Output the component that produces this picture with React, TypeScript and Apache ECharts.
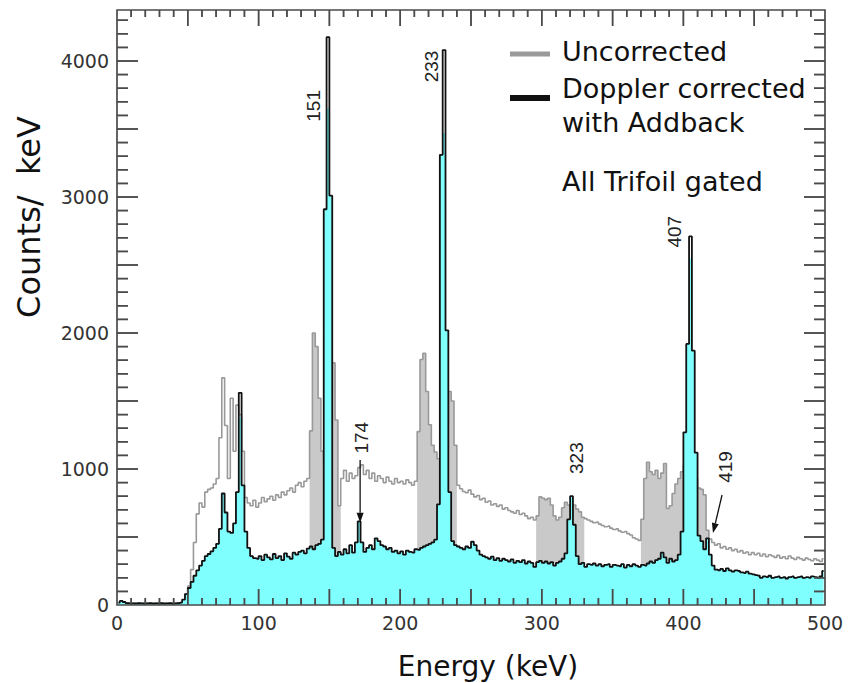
import React, { useEffect, useRef } from 'react';
import * as echarts from 'echarts';

// ---------------- DATA (2 keV bins, 0-500 keV) ----------------
const BIN_WIDTH_KEV = 2;

// Uncorrected spectrum (grey)
const uncorrectedCounts = [
  15, 28, 20, 14, 12, 12, 11, 13, 12, 11, 12, 13, 11, 12, 12, 13, 11, 12, 13, 11, 12, 14, 16,
  30, 80, 140, 260, 460, 670, 750, 720, 830, 850, 860, 890, 930, 1230, 1670, 1320, 930, 1520, 1130, 1470, 1400, 1130, 790, 750, 730, 770,
  720, 750, 790, 760, 780, 800, 770, 810, 790, 830, 810, 840, 860, 830, 880, 900, 870, 910, 930,
  1280, 2000, 1900, 1520, 1130, 1030, 1130, 1520, 1780, 1360, 730,
  930, 990, 910, 970, 930, 950, 1010, 1030, 960, 990, 930, 970, 910, 950, 930, 900, 940, 910, 890, 930, 900, 910, 890, 920, 900, 880, 910,
  1275, 1805, 1850, 1570, 1325, 1175, 1125, 1075, 1030, 1075, 1325, 1570, 1500, 1175, 880,
  855, 835, 825, 845, 815, 795, 805, 775, 785, 755, 765, 735, 745, 725, 735, 705, 715, 695, 685, 675, 695, 665, 675, 655, 635, 645, 625, 655,
  795, 785, 775, 785, 735, 655, 625, 645, 715, 755, 735, 725, 735, 705, 685, 645, 635, 625, 615, 605, 610, 595, 585, 575, 580, 565, 555, 560, 545, 535, 540, 525, 515, 495, 485, 475,
  630, 930, 1050, 980, 960, 990, 930, 970, 1040, 710, 730, 820, 890, 930, 980, 1030, 1130, 1180, 1080, 930, 860, 850, 810, 550, 485,
  460, 440, 450, 420, 430, 410, 420, 400, 410, 390, 400, 380, 390, 370, 385, 370, 380, 360, 375, 355,
  370, 360, 350, 365, 345, 355, 340, 360, 345, 335, 350, 340, 330, 345, 335, 325, 340, 330, 320, 340,
];

// Doppler corrected with Addback (black line)
const correctedCounts = [
  18, 30, 22, 14, 12,
  12, 11, 13, 12, 11, 12, 13, 11, 12, 12, 13, 11, 12, 13, 11, 12, 14, 18,
  40, 80, 125, 170, 215, 255, 290, 325, 360, 375, 395, 420, 450, 560, 820, 680, 540, 530, 600, 830, 1560, 880, 540, 420, 360, 345,
  340, 360, 330, 370, 350, 335, 375, 345, 360, 330, 380, 355, 340, 385, 370, 390, 400, 380, 415, 430, 410, 440, 450, 480,
  2910, 4175, 3010, 420,
  360, 390, 370, 410, 380, 440, 385, 460, 615, 460, 390, 420, 440, 410, 490, 470, 440, 430, 410, 420,
  390, 400, 380, 395, 370, 400, 390, 385, 410, 405, 420, 430, 440, 450, 460, 480,
  740, 3310, 4080, 2020, 830, 470,
  440, 430, 420, 410, 430, 420, 465, 440, 400, 370, 360, 350, 340, 355, 330, 345, 325, 340, 330, 320,
  335, 310, 325, 315, 330, 305, 320, 310, 280, 315, 325, 310, 320, 305, 315, 290, 310, 320, 340,
  380, 630, 800, 590, 360,
  300, 310, 280, 300, 295, 305, 290, 300, 285, 295, 300, 280, 295, 290, 285, 300, 275, 295,
  285, 300, 290, 280, 295, 290, 305, 320, 310, 330, 340, 385, 350, 310, 340, 320, 330, 370,
  540, 1270, 1920, 2710, 1870, 1120, 510, 470, 410, 490, 370, 290,
  260, 255, 265, 250, 270, 255, 245, 255, 250, 240, 235, 245, 230, 225, 220, 215, 200, 210, 205, 215,
  200, 205, 210, 200, 205, 195, 205, 210, 200, 205, 210, 200, 205, 200, 210, 205, 200, 210, 250,
];

// Cyan fill follows the corrected spectrum, except at the tops of the strongest peaks
const cyanPeakTops: [number, number][] = [
  [87, 1380],
  [149, 3650],
  [231, 3470],
  [405, 2550],
];

// Energy ranges where the uncorrected spectrum is shaded grey
const shadedRangesKeV: [number, number][] = [
  [136, 158],
  [212, 240],
  [296, 330],
  [370, 418],
];

const X_LABEL_STEP = 100;
const Y_LABEL_STEP = 1000;

// tick marks
const xTickValues = [
  10, 20, 30, 40, 50, 60, 70, 80, 90, 100, 110, 120, 130, 140, 150, 160, 170, 180, 190, 200,
  210, 220, 230, 240, 250, 260, 270, 280, 290, 300, 310, 320, 330, 340, 350, 360, 370, 380, 390, 400,
  410, 420, 430, 440, 450, 460, 470, 480, 490,
];
const yTickValues = [
  100, 200, 300, 400, 500, 600, 700, 800, 900, 1000, 1100, 1200, 1300, 1400, 1500, 1600, 1700, 1800, 1900, 2000,
  2100, 2200, 2300, 2400, 2500, 2600, 2700, 2800, 2900, 3000, 3100, 3200, 3300, 3400, 3500, 3600, 3700, 3800, 3900, 4000,
  4100, 4200, 4300,
];

const peakLabels = ['151', '233', '407', '174', '323', '419'];
const peakLabelEnergy = [138.6, 222, 394, 172.5, 324.2, 430];
const peakLabelCount = [3670, 3960, 2745, 1230, 1080, 1015];

// arrows: [tailEnergy, tailCount, tipEnergy, tipCount]
const arrows: [number, number, number, number][] = [
  [171.7, 1066, 171.7, 605],
  [427.3, 809, 420.9, 529],
];

// ---------------- helpers ----------------
const energies = correctedCounts.map((_, i) => i * BIN_WIDTH_KEV + BIN_WIDTH_KEV / 2);

const cyanCounts = correctedCounts.map((v, i) => {
  const hit = cyanPeakTops.find(([e]) => e === energies[i]);
  return hit ? hit[1] : v;
});

const shadedCounts = uncorrectedCounts.map((v, i) => {
  const e = energies[i];
  return shadedRangesKeV.some(([a, b]) => e >= a && e <= b) ? v : 0;
});

const FRAME = '#4a4a4a';
const X_MIN = 0, X_MAX = 500, Y_MIN = 0, Y_MAX = 4375;

const GRID_LEFT = 117, GRID_RIGHT = 30, GRID_TOP = 10, GRID_BOTTOM = 78;
const PLOT_W = 855 - GRID_LEFT - GRID_RIGHT;
const PLOT_H = 683 - GRID_TOP - GRID_BOTTOM;
const pxToCounts = (px: number) => (px * (Y_MAX - Y_MIN)) / PLOT_H;
const pxToKeV = (px: number) => (px * (X_MAX - X_MIN)) / PLOT_W;

export default function App() {
  const ref = useRef<HTMLDivElement>(null);

  useEffect(() => {
    if (!ref.current) return;
    const chart = echarts.init(ref.current, null, { renderer: 'svg' });

    const labelStyle = { color: '#333', fontSize: 19, fontFamily: 'DejaVu Sans' };
    const pairs = (arr: number[]) => arr.map((v, i) => [energies[i], v]);

    // one small line series per tick mark (2 points each), drawn through the axes' scales
    const tickSeries: any[] = [];
    xTickValues.forEach((v) => {
      const l = pxToCounts(v % 50 === 0 ? 16 : 7);
      tickSeries.push({
        type: 'line', data: [[v, Y_MIN], [v, Y_MIN + l]], symbol: 'none', silent: true, z: 6,
        lineStyle: { color: FRAME, width: 1.5 },
      });
      tickSeries.push({
        type: 'line', data: [[v, Y_MAX], [v, Y_MAX - l]], symbol: 'none', silent: true, z: 6,
        lineStyle: { color: FRAME, width: 1.5 },
      });
    });
    yTickValues.forEach((v) => {
      const l = pxToKeV(v % 500 === 0 ? 21 : 11);
      tickSeries.push({
        type: 'line', data: [[X_MIN, v], [X_MIN + l, v]], symbol: 'none', silent: true, z: 6,
        lineStyle: { color: FRAME, width: 1.5 },
      });
      tickSeries.push({
        type: 'line', data: [[X_MAX, v], [X_MAX - l, v]], symbol: 'none', silent: true, z: 6,
        lineStyle: { color: FRAME, width: 1.5 },
      });
    });

    chart.setOption({
      animation: false,
      backgroundColor: '#ffffff',
      grid: {
        left: GRID_LEFT, right: GRID_RIGHT, top: GRID_TOP, bottom: GRID_BOTTOM, containLabel: false,
      },
      xAxis: {
        type: 'value', min: X_MIN, max: X_MAX, interval: X_LABEL_STEP,
        axisLine: { show: false }, axisTick: { show: false }, splitLine: { show: false },
        axisLabel: { show: true, margin: 8, ...labelStyle },
      },
      yAxis: {
        type: 'value', min: Y_MIN, max: Y_MAX, interval: Y_LABEL_STEP,
        axisLine: { show: false }, axisTick: { show: false }, splitLine: { show: false },
        axisLabel: { show: true, margin: 8, ...labelStyle, formatter: (v: number) => (v % Y_LABEL_STEP === 0 ? String(v) : '') },
      },
      series: [
        {
          name: 'shaded', type: 'line', step: 'middle', data: pairs(shadedCounts), symbol: 'none', silent: true, z: 1,
          lineStyle: { width: 0, opacity: 0 }, areaStyle: { color: '#c9c9c9', opacity: 1 },
        },
        {
          name: 'Uncorrected', type: 'line', step: 'middle', data: pairs(uncorrectedCounts), symbol: 'none', silent: true, z: 2,
          lineStyle: { color: '#999999', width: 1.6 },
        },
        {
          name: 'fill', type: 'line', step: 'middle', data: pairs(cyanCounts), symbol: 'none', silent: true, z: 3,
          lineStyle: { width: 0, opacity: 0 }, areaStyle: { color: '#80ffff', opacity: 1 },
        },
        {
          name: 'Doppler corrected with Addback', type: 'line', step: 'middle', data: pairs(correctedCounts), symbol: 'none', silent: true, z: 4,
          lineStyle: { color: '#111111', width: 1.8 },
        },
        ...tickSeries,
      ],
    });

    const toPx = (e: number, c: number) => chart.convertToPixel({ xAxisIndex: 0, yAxisIndex: 0 }, [e, c]) as number[];

    const graphics: any[] = [];

    const lb = toPx(X_MIN, Y_MIN);
    const rt = toPx(X_MAX, Y_MAX);
    const gL = lb[0], gB = lb[1], gR = rt[0], gT = rt[1];

    // same ticks also as graphic lines (identical positions)
    xTickValues.forEach((v) => {
      const x = toPx(v, Y_MIN)[0];
      const len = v % 50 === 0 ? 16 : 7;
      graphics.push({ type: 'line', silent: true, z: 30, shape: { x1: x, y1: gB, x2: x, y2: gB - len }, style: { stroke: FRAME, lineWidth: 1.5 } });
      graphics.push({ type: 'line', silent: true, z: 30, shape: { x1: x, y1: gT, x2: x, y2: gT + len }, style: { stroke: FRAME, lineWidth: 1.5 } });
    });
    yTickValues.forEach((v) => {
      const y = toPx(X_MIN, v)[1];
      const len = v % 500 === 0 ? 21 : 11;
      graphics.push({ type: 'line', silent: true, z: 30, shape: { x1: gL, y1: y, x2: gL + len, y2: y }, style: { stroke: FRAME, lineWidth: 1.5 } });
      graphics.push({ type: 'line', silent: true, z: 30, shape: { x1: gR, y1: y, x2: gR - len, y2: y }, style: { stroke: FRAME, lineWidth: 1.5 } });
    });

    graphics.push({
      type: 'rect', silent: true, z: 31,
      shape: { x: gL, y: gT, width: gR - gL, height: gB - gT },
      style: { fill: 'none', stroke: FRAME, lineWidth: 1.7 },
    });

    peakLabels.forEach((t, i) => {
      const p = toPx(peakLabelEnergy[i], peakLabelCount[i]);
      graphics.push({
        type: 'text', x: p[0], y: p[1], rotation: Math.PI / 2, silent: true, z: 10,
        style: { text: t, fontSize: 19, fontFamily: 'Liberation Sans', fill: '#222', align: 'center', verticalAlign: 'middle' },
      });
    });
    arrows.forEach(([e1, c1, e2, c2]) => {
      const p1 = toPx(e1, c1);
      const p2 = toPx(e2, c2);
      const x1 = p1[0], y1 = p1[1], x2 = p2[0], y2 = p2[1];
      const dx = x2 - x1, dy = y2 - y1;
      const len = Math.hypot(dx, dy);
      const ux = dx / len, uy = dy / len;
      const hl = 10, hw = 3.5;
      const bx = x2 - ux * hl, by = y2 - uy * hl;
      graphics.push({
        type: 'line', silent: true, z: 10,
        shape: { x1, y1, x2: bx, y2: by },
        style: { stroke: '#111', lineWidth: 1.3 },
      });
      graphics.push({
        type: 'polygon', silent: true, z: 10,
        shape: { points: [[x2, y2], [bx - uy * hw, by + ux * hw], [bx + uy * hw, by - ux * hw]] },
        style: { fill: '#111' },
      });
    });

    // legend
    graphics.push({ type: 'line', silent: true, z: 10, shape: { x1: 510, y1: 54, x2: 550, y2: 54 }, style: { stroke: '#9a9a9a', lineWidth: 5 } });
    graphics.push({ type: 'line', silent: true, z: 10, shape: { x1: 510, y1: 98, x2: 550, y2: 98 }, style: { stroke: '#111', lineWidth: 6 } });
    const legendText = (text: string, y: number) => ({
      type: 'text', x: 562, y, silent: true, z: 10,
      style: { text, fontSize: 27, fontFamily: 'DejaVu Sans', fill: '#111', align: 'left', verticalAlign: 'middle' },
    });
    graphics.push(legendText('Uncorrected', 51));
    graphics.push(legendText('Doppler corrected', 88));
    graphics.push(legendText('with Addback', 122));
    graphics.push(legendText('All Trifoil gated', 181));

    // axis titles
    graphics.push({
      type: 'text', x: 29, y: 217, rotation: Math.PI / 2, silent: true, z: 10,
      style: { text: 'Counts/  keV', fontSize: 32, fontFamily: 'DejaVu Sans', fill: '#111', align: 'center', verticalAlign: 'middle' },
    });
    graphics.push({
      type: 'text', x: 488, y: 666, silent: true, z: 10,
      style: { text: 'Energy (keV)', fontSize: 28, fontFamily: 'DejaVu Sans', fill: '#111', align: 'center', verticalAlign: 'middle' },
    });

    chart.setOption({ graphic: graphics });

    return () => chart.dispose();
  }, []);

  return <div ref={ref} style={{ position: 'absolute', left: 0, top: 0, width: 855, height: 683 }} />;
}
